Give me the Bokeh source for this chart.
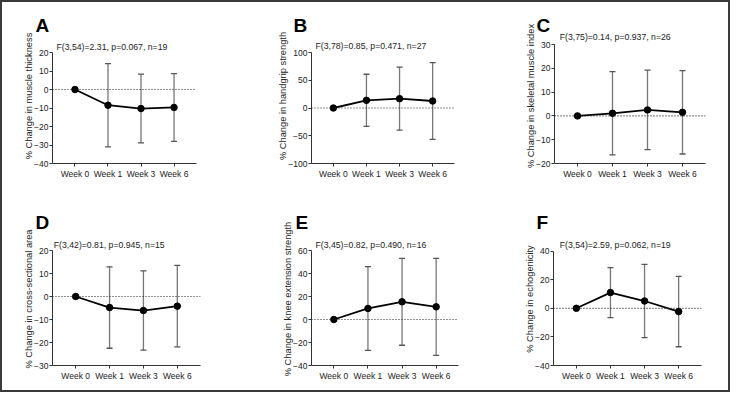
from bokeh.plotting import figure
from bokeh.models import (FactorRange, Range1d, Span, Label, Whisker,
                          ColumnDataSource, FixedTicker, TeeHead)
from bokeh.layouts import row, column
from bokeh.embed import file_html
from bokeh.resources import INLINE

# ---------------- data ----------------
weeks = ["Week 0", "Week 1", "Week 3", "Week 6"]

letters = ["A", "B", "C", "D", "E", "F"]
ylabels = [
    "% Change in muscle thickness",
    "% Change in handgrip strength",
    "% Change in skeletal muscle index",
    "% Change in cross-sectional area",
    "% Change in knee extension strength",
    "% Change in echogenicity",
]
stats = [
    "F(3,54)=2.31, p=0.067, n=19",
    "F(3,78)=0.85, p=0.471, n=27",
    "F(3,75)=0.14, p=0.937, n=26",
    "F(3,42)=0.81, p=0.945, n=15",
    "F(3,45)=0.82, p=0.490, n=16",
    "F(3,54)=2.59, p=0.062, n=19",
]

mean_a = [0, -8.5, -10.3, -9.7]
sd_a = [0, 22.5, 18.6, 18.3]
mean_b = [0, 13.8, 16.8, 12.6]
sd_b = [0, 47.0, 56.7, 69.3]
mean_c = [0, 1.1, 2.5, 1.5]
sd_c = [0, 17.5, 16.7, 17.5]
mean_d = [0, -4.8, -6.1, -4.2]
sd_d = [0, 17.7, 17.2, 17.7]
mean_e = [0, 9.6, 15.4, 11.0]
sd_e = [0, 36.4, 37.8, 42.2]
mean_f = [0, 11.0, 5.1, -2.3]
sd_f = [0, 17.5, 25.6, 24.6]

means = [mean_a, mean_b, mean_c, mean_d, mean_e, mean_f]
sds = [sd_a, sd_b, sd_c, sd_d, sd_e, sd_f]

y_ticks_a = [-40, -30, -20, -10, 0, 10, 20]
y_ticks_b = [-100, -50, 0, 50, 100]
y_ticks_c = [-20, -10, 0, 10, 20, 30]
y_ticks_d = [-30, -20, -10, 0, 10, 20]
y_ticks_e = [-40, -20, 0, 20, 40, 60]
y_ticks_f = [-40, -20, 0, 20, 40]
y_ticks = [y_ticks_a, y_ticks_b, y_ticks_c, y_ticks_d, y_ticks_e, y_ticks_f]

# ---------------- layout (page pixel geometry) ----------------
col_x0 = [2, 247, 498]
col_w = [245, 251, 230]
row_y0 = [2, 200]
row_h = [198, 190]
row_frame_top = [28, 232]
# col, row, y-axis x, x-axis end, top tick y, bottom tick y,
# letter x, letter baseline, stat x, stat baseline, x padding
geo = [
    (0, 0, 51.5, 195.0, 52.0, 163.0, 35.0, 31.5, 56.0, 46.5, 0.18),
    (1, 0, 310.7, 453.3, 52.0, 163.0, 293.0, 31.7, 315.0, 45.0, 0.16),
    (2, 0, 554.3, 705.3, 43.7, 162.7, 536.0, 31.7, 559.3, 36.5, 0.157),
    (0, 1, 52.0, 200.0, 250.3, 365.3, 35.0, 228.3, 53.3, 244.0, 0.185),
    (1, 1, 310.7, 457.7, 250.3, 365.3, 295.0, 228.3, 315.0, 244.0, 0.155),
    (2, 1, 553.3, 701.0, 250.3, 364.7, 536.0, 228.3, 559.3, 244.0, 0.17),
]
DESC = 4.0  # descent of the bold panel letter

FONT = "Liberation Sans"


def make_panel(i):
    (c, r, ax_l, ax_r, yt, yb, lx, lb, sx, sb, pad) = geo[i]
    W, H = col_w[c], row_h[r]
    x0, y0 = col_x0[c], row_y0[r]
    bl = round(ax_l - x0)
    fw = round(ax_r - ax_l)
    br = W - bl - fw
    bt = round(row_frame_top[r] - y0)
    fb = round(yb - y0)
    bb = H - fb
    fh = fb - bt
    ticks = y_ticks[i]
    ylo, yhi = ticks[0], ticks[-1]
    ppu = (yb - yt) / (yhi - ylo)
    y_end = ylo + fh / ppu

    p = figure(width=W, height=H,
               x_range=FactorRange(*weeks, range_padding=pad,
                                   range_padding_units="absolute"),
               y_range=Range1d(ylo, y_end),
               output_backend="svg", toolbar_location=None,
               min_border_left=bl, min_border_right=br,
               min_border_top=bt, min_border_bottom=bb)
    p.outline_line_color = None
    p.xgrid.visible = False
    p.ygrid.visible = False
    p.background_fill_color = "white"
    p.border_fill_color = "white"

    for ax in (p.xaxis, p.yaxis):
        ax.axis_line_color = "#333333"
        ax.axis_line_width = 1
        ax.major_tick_line_color = "#333333"
        ax.major_tick_out = 3
        ax.major_tick_in = 0
        ax.minor_tick_line_color = None
        ax.major_label_text_font = FONT
        ax.major_label_text_font_size = "8.5px"
        ax.major_label_text_color = "#222222"
        ax.major_label_standoff = 2
    p.yaxis.major_label_standoff = 1
    p.yaxis.ticker = FixedTicker(ticks=ticks)
    p.yaxis.bounds = (ylo, yhi)
    p.yaxis.axis_label = ylabels[i]
    p.yaxis.axis_label_text_font = FONT
    p.yaxis.axis_label_text_font_size = "9.3px"
    p.yaxis.axis_label_text_font_style = "normal"
    p.yaxis.axis_label_text_color = "#222222"
    p.yaxis.axis_label_standoff = -3

    # panel letter as title, placed left of the frame
    p.title.text = letters[i]
    p.title.align = "left"
    p.title.vertical_align = "bottom"
    p.title.offset = lx - (x0 + bl)
    p.title.standoff = 2 * ((y0 + bt) - (lb + DESC))
    p.title.text_font = FONT
    p.title.text_font_size = "19px"
    p.title.text_font_style = "bold"
    p.title.text_color = "black"

    p.add_layout(Span(location=0, dimension="width", line_color="#222222",
                      line_width=1.2, line_dash="1 2"))

    m = means[i]
    s = sds[i]
    src = ColumnDataSource(data=dict(
        week=weeks, mean=m,
        upper=[a + b for a, b in zip(m, s)],
        lower=[a - b for a, b in zip(m, s)]))
    w = Whisker(base="week", upper="upper", lower="lower", source=src,
                line_color="#777777", line_width=1.3, level="underlay",
                upper_head=TeeHead(size=6, line_color="#555555", line_width=1.3),
                lower_head=TeeHead(size=6, line_color="#555555", line_width=1.3))
    p.add_layout(w)

    p.line(x="week", y="mean", source=src, line_color="black", line_width=1.8)
    p.scatter(x="week", y="mean", source=src, size=6.5, color="black")

    p.add_layout(Label(x=sx - (x0 + bl), y=(y0 + fb) - sb,
                       x_units="screen", y_units="screen",
                       text=stats[i], text_font=FONT, text_font_size="8.7px",
                       text_color="#222222", text_baseline="alphabetic"))
    return p


panels = [make_panel(i) for i in range(6)]
layout = column(row(*panels[:3]), row(*panels[3:]),
                styles={"border": "2px solid #3a3a3a"})

open("out.html", "w").write(file_html(layout, INLINE))
